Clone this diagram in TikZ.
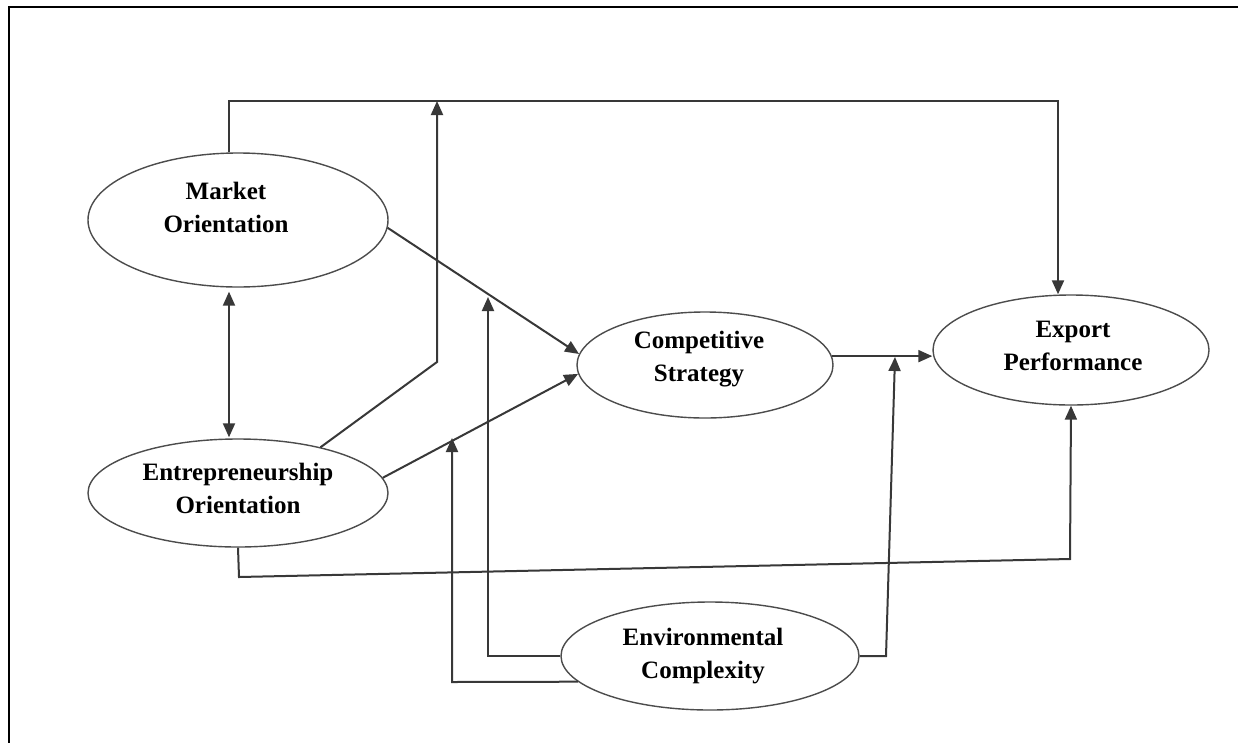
\documentclass[tikz,border=0pt]{standalone}
\usepackage{fontspec}
\setmainfont{Liberation Serif}
\usetikzlibrary{arrows.meta,shapes.geometric,calc}
\begin{document}
\begin{tikzpicture}[x=1pt,y=-1pt,
  ell/.style={ellipse,draw=black!70,line width=1.4pt,inner sep=0pt},
  lbl/.style={align=center,font=\fontsize{25}{33}\selectfont\bfseries,inner sep=0pt},
  conn/.style={draw=black!78,line width=2pt},
  tip/.tip={Triangle[length=14pt,width=12pt]},
  arr/.style={conn,-tip},
  dbl/.style={conn,tip-tip}
]
\useasboundingbox (0,0) rectangle (1238,742);
\fill[white] (0,0) rectangle (1238,742);
% frame
\draw[line width=2.4pt,line cap=rect] (9,742) -- (9,7) -- (1238,7);

% ellipses
\node[ell,minimum width=300pt,minimum height=134pt] (mo) at (238,220) {};
\node[ell,minimum width=300pt,minimum height=108pt] (eo) at (238,493) {};
\node[ell,minimum width=256pt,minimum height=106pt] (cs) at (705,365) {};
\node[ell,minimum width=276pt,minimum height=110pt] (ep) at (1071,350) {};
\node[ell,minimum width=298pt,minimum height=108pt] (ec) at (710,656) {};

% labels
\node[lbl] (tmo) at (226,207) {Market\\Orientation};
\node[lbl] (teo) at (238,488) {Entrepreneurship\\Orientation};
\node[lbl] (tcs) at (699,359) {Competitive\\Strategy};
\node[lbl] (tep) at (1073,346) {Export\\Performance};
\node[lbl] (tec) at (703,656) {Environmental\\Complexity};

% junction coordinates
\coordinate (t1) at (229,101);
\coordinate (t2) at (1058,101);
\coordinate (tm) at (437,101);
\coordinate (j1) at (437,362);
\coordinate (b1) at (239,577);
\coordinate (b2) at (1070,559);
\coordinate (a1) at (488,656);
\coordinate (m1) at (488,297);
\coordinate (a2) at (452,682);
\coordinate (m2) at (452,438);
\coordinate (c1) at (886,656);
\coordinate (m3) at (895,357);

% MO -> EP over the top
\draw[arr] (t1 |- mo.north) -- (t1) -- (t2) -- (t2 |- ep.north);
% EO -> top line (moderation)
\draw[arr] (eo.29) -- (j1) -- (tm);
% MO <-> EO
\draw[dbl,shorten <=4pt,shorten >=1pt] ([xshift=-9pt]mo.south) -- ([xshift=-9pt]eo.north);
% MO -> CS
\draw[arr] (mo.-3.4) -- (cs.175);
% EO -> CS
\draw[arr] (eo.6.7) -- (cs.184);
% CS -> EP
\draw[arr] (cs.4) -- (cs.4 -| ep.west);
% EO -> EP along bottom
\draw[arr] (eo.south) -- (b1) -- (b2) -- (ep.south);
% EC moderations
\draw[arr] (ec.west) -- (a1) -- (m1);
\draw[arr] (ec.191) -- (a2) -- (m2);
\draw[arr] (ec.east) -- (c1) -- (m3);
\end{tikzpicture}
\end{document}
